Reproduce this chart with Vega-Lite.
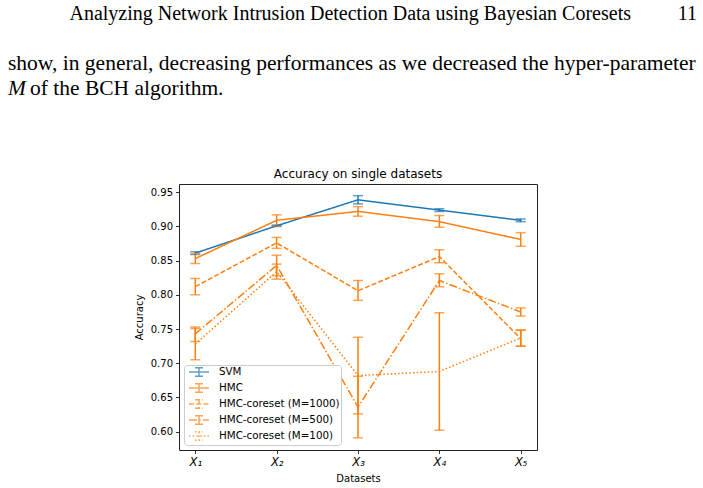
{
  "$schema": "https://vega.github.io/schema/vega-lite/v6.json",
  "width": 358,
  "height": 266,
  "autosize": {"type": "none"},
  "padding": {"left": 179, "top": 184, "right": 166, "bottom": 38},
  "background": "white",
  "config": {
    "view": {"stroke": "#222", "strokeWidth": 1},
    "axis": {
      "domain": false,
      "grid": false,
      "labelFont": "DejaVu Sans",
      "labelFontSize": 10,
      "labelColor": "#000",
      "labelOverlap": false,
      "labelFlush": false,
      "titleFont": "DejaVu Sans",
      "titleFontSize": 10,
      "titleFontWeight": "normal",
      "titleColor": "#000",
      "tickColor": "#000",
      "tickSize": 3.5,
      "tickWidth": 0.8,
      "labelPadding": 3
    },
    "text": {"font": "Liberation Serif", "fontSize": 20, "color": "#000"}
  },
  "datasets": {
    "scores": [
      {"set": "X₁", "method": "SVM", "acc": 0.861, "lo": 0.859, "hi": 0.863},
      {"set": "X₂", "method": "SVM", "acc": 0.901, "lo": 0.900, "hi": 0.902},
      {"set": "X₃", "method": "SVM", "acc": 0.939, "lo": 0.933, "hi": 0.945},
      {"set": "X₄", "method": "SVM", "acc": 0.924, "lo": 0.922, "hi": 0.926},
      {"set": "X₅", "method": "SVM", "acc": 0.909, "lo": 0.907, "hi": 0.911},
      {"set": "X₁", "method": "HMC", "acc": 0.853, "lo": 0.846, "hi": 0.860},
      {"set": "X₂", "method": "HMC", "acc": 0.909, "lo": 0.901, "hi": 0.917},
      {"set": "X₃", "method": "HMC", "acc": 0.922, "lo": 0.915, "hi": 0.929},
      {"set": "X₄", "method": "HMC", "acc": 0.907, "lo": 0.899, "hi": 0.916},
      {"set": "X₅", "method": "HMC", "acc": 0.881, "lo": 0.871, "hi": 0.891},
      {"set": "X₁", "method": "HMC-coreset (M=1000)", "acc": 0.812, "lo": 0.800, "hi": 0.824},
      {"set": "X₂", "method": "HMC-coreset (M=1000)", "acc": 0.876, "lo": 0.868, "hi": 0.884},
      {"set": "X₃", "method": "HMC-coreset (M=1000)", "acc": 0.806, "lo": 0.792, "hi": 0.821},
      {"set": "X₄", "method": "HMC-coreset (M=1000)", "acc": 0.856, "lo": 0.847, "hi": 0.866},
      {"set": "X₅", "method": "HMC-coreset (M=1000)", "acc": 0.736, "lo": 0.725, "hi": 0.748},
      {"set": "X₁", "method": "HMC-coreset (M=500)", "acc": 0.743, "lo": 0.732, "hi": 0.753},
      {"set": "X₂", "method": "HMC-coreset (M=500)", "acc": 0.843, "lo": 0.828, "hi": 0.858},
      {"set": "X₃", "method": "HMC-coreset (M=500)", "acc": 0.636, "lo": 0.591, "hi": 0.681},
      {"set": "X₄", "method": "HMC-coreset (M=500)", "acc": 0.821, "lo": 0.812, "hi": 0.831},
      {"set": "X₅", "method": "HMC-coreset (M=500)", "acc": 0.775, "lo": 0.769, "hi": 0.781},
      {"set": "X₁", "method": "HMC-coreset (M=100)", "acc": 0.728, "lo": 0.705, "hi": 0.751},
      {"set": "X₂", "method": "HMC-coreset (M=100)", "acc": 0.834, "lo": 0.823, "hi": 0.845},
      {"set": "X₃", "method": "HMC-coreset (M=100)", "acc": 0.682, "lo": 0.626, "hi": 0.738},
      {"set": "X₄", "method": "HMC-coreset (M=100)", "acc": 0.688, "lo": 0.602, "hi": 0.774},
      {"set": "X₅", "method": "HMC-coreset (M=100)", "acc": 0.737, "lo": 0.725, "hi": 0.749}
    ]
  },
  "layer": [
    {
      "data": {"name": "scores"},
      "mark": {"type": "line", "strokeWidth": 1.5},
      "encoding": {
        "x": {
          "field": "set",
          "type": "ordinal",
          "scale": {"type": "point", "padding": 0.2},
          "axis": {"title": "Datasets", "labelAngle": 0, "labelFontStyle": "italic", "labelFontSize": 11.5, "titlePadding": 5}
        },
        "y": {
          "field": "acc",
          "type": "quantitative",
          "scale": {"domain": [0.5732, 0.9621], "nice": false, "zero": false},
          "axis": {"title": "Accuracy", "values": [0.6, 0.65, 0.7, 0.75, 0.8, 0.85, 0.9, 0.95], "format": ".2f", "titlePadding": 6}
        },
        "color": {
          "field": "method",
          "type": "nominal",
          "scale": {
            "domain": ["SVM", "HMC", "HMC-coreset (M=1000)", "HMC-coreset (M=500)", "HMC-coreset (M=100)"],
            "range": ["#1f77b4", "#ff7f0e", "#ff7f0e", "#ff7f0e", "#ff7f0e"]
          },
          "legend": {
            "title": null,
            "orient": "bottom-left",
            "offset": 5,
            "padding": 1,
            "fillColor": "white",
            "strokeColor": "#cccccc",
            "cornerRadius": 3,
            "labelFont": "DejaVu Sans",
            "labelFontSize": 10.3,
            "labelColor": "#000",
            "labelOffset": 14,
            "rowPadding": 0,
            "symbolOffset": 8,
            "symbolType": "M-2,0L2,0M0,-0.85L0,0.85M-0.8,-0.85L0.8,-0.85M-0.8,0.85L0.8,0.85",
            "symbolSize": 100,
            "symbolStrokeWidth": 1.5
          }
        },
        "strokeDash": {
          "field": "method",
          "type": "nominal",
          "scale": {
            "domain": ["SVM", "HMC", "HMC-coreset (M=1000)", "HMC-coreset (M=500)", "HMC-coreset (M=100)"],
            "range": [[1, 0], [1, 0], [5, 2.2], [8, 2.2, 1.5, 2.2], [1.5, 2.2]]
          },
          "legend": {"title": null}
        }
      }
    },
    {
      "data": {"name": "scores"},
      "mark": {"type": "rule", "strokeWidth": 1.5},
      "encoding": {
        "x": {
          "field": "set",
          "type": "ordinal",
          "axis": {"title": "Datasets", "labelAngle": 0, "labelFontStyle": "italic", "labelFontSize": 11.5, "titlePadding": 5}
        },
        "y": {
          "field": "lo",
          "type": "quantitative",
          "axis": {"title": "Accuracy", "values": [0.6, 0.65, 0.7, 0.75, 0.8, 0.85, 0.9, 0.95], "format": ".2f", "titlePadding": 6}
        },
        "y2": {"field": "hi"},
        "color": {"field": "method", "type": "nominal"}
      }
    },
    {
      "data": {"name": "scores"},
      "mark": {"type": "tick", "size": 10, "thickness": 1.5, "orient": "horizontal"},
      "encoding": {
        "x": {
          "field": "set",
          "type": "ordinal",
          "axis": {"title": "Datasets", "labelAngle": 0, "labelFontStyle": "italic", "labelFontSize": 11.5, "titlePadding": 5}
        },
        "y": {
          "field": "lo",
          "type": "quantitative",
          "axis": {"title": "Accuracy", "values": [0.6, 0.65, 0.7, 0.75, 0.8, 0.85, 0.9, 0.95], "format": ".2f", "titlePadding": 6}
        },
        "color": {"field": "method", "type": "nominal"}
      }
    },
    {
      "data": {"name": "scores"},
      "mark": {"type": "tick", "size": 10, "thickness": 1.5, "orient": "horizontal"},
      "encoding": {
        "x": {
          "field": "set",
          "type": "ordinal",
          "axis": {"title": "Datasets", "labelAngle": 0, "labelFontStyle": "italic", "labelFontSize": 11.5, "titlePadding": 5}
        },
        "y": {
          "field": "hi",
          "type": "quantitative",
          "axis": {"title": "Accuracy", "values": [0.6, 0.65, 0.7, 0.75, 0.8, 0.85, 0.9, 0.95], "format": ".2f", "titlePadding": 6}
        },
        "color": {"field": "method", "type": "nominal"}
      }
    },
    {
      "data": {"values": [{}]},
      "mark": {"type": "text", "align": "center", "baseline": "alphabetic", "font": "DejaVu Sans", "fontSize": 12},
      "encoding": {"x": {"value": 179}, "y": {"value": -6}, "text": {"value": "Accuracy on single datasets"}}
    },
    {
      "data": {"values": [{}]},
      "mark": {"type": "text", "align": "right", "baseline": "alphabetic"},
      "encoding": {"x": {"value": 452}, "y": {"value": -164}, "text": {"value": "Analyzing Network Intrusion Detection Data using Bayesian Coresets"}}
    },
    {
      "data": {"values": [{}]},
      "mark": {"type": "text", "align": "right", "baseline": "alphabetic"},
      "encoding": {"x": {"value": 518}, "y": {"value": -164}, "text": {"value": "11"}}
    },
    {
      "data": {"values": [{}]},
      "mark": {"type": "text", "align": "left", "baseline": "alphabetic", "fontSize": 21.5},
      "encoding": {"x": {"value": -171}, "y": {"value": -114}, "text": {"value": "show, in general, decreasing performances as we decreased the hyper-parameter"}}
    },
    {
      "data": {"values": [{}]},
      "mark": {"type": "text", "align": "left", "baseline": "alphabetic", "fontStyle": "italic", "fontSize": 21.5},
      "encoding": {"x": {"value": -171}, "y": {"value": -89}, "text": {"value": "M"}}
    },
    {
      "data": {"values": [{}]},
      "mark": {"type": "text", "align": "left", "baseline": "alphabetic", "fontSize": 21.5},
      "encoding": {"x": {"value": -149}, "y": {"value": -89}, "text": {"value": "of the BCH algorithm."}}
    }
  ]
}
